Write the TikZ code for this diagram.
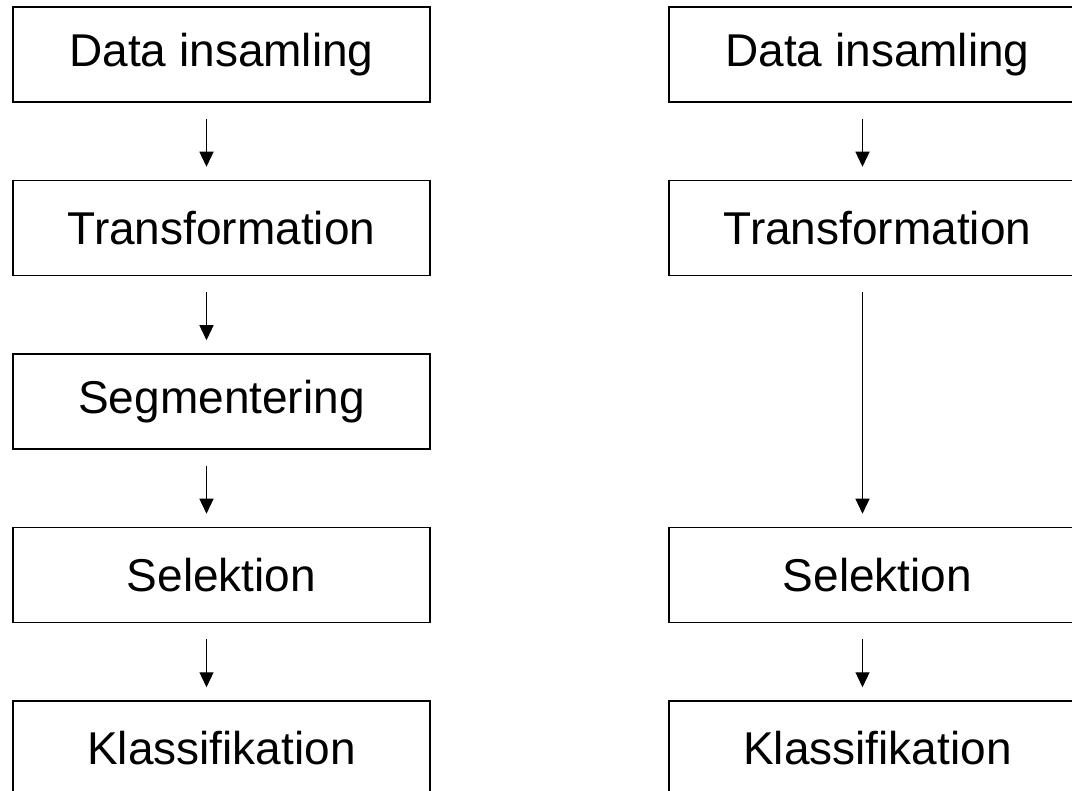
\documentclass[tikz,border=0pt]{standalone}
\usepackage{fontspec}
\setmainfont{Liberation Sans}
\usetikzlibrary{positioning,arrows.meta}
\begin{document}
\begin{tikzpicture}[
  node distance=77pt,
  steg/.style={draw,line width=1.5pt,minimum width=417pt,minimum height=95pt,
    inner sep=0pt,font=\fontsize{46pt}{55pt}\selectfont},
  pil/.style={line width=1.3pt,-{Triangle[width=14pt,length=15pt]}}]
\clip (0,0) rectangle (1072pt,-791pt);
\pgfmathsetmacro{\dx}{-15}%
% vänster kedja
\node[steg] (d1) at (221.5pt,-54.5pt) {Data insamling};
\node[steg,below=of d1] (t1) {Transformation};
\node[steg,below=of t1] (g1) {Segmentering};
\node[steg,below=of g1] (s1) {Selektion};
\node[steg,below=of s1] (k1) {Klassifikation};
% höger kedja, utan segmentering
\node[steg] (d2) at (877.5pt,-54.5pt) {Data insamling};
\node[steg,below=of d2] (t2) {Transformation};
\node[steg] (s2) at (d2 |- s1) {Selektion};
\node[steg,below=of s2] (k2) {Klassifikation};
\foreach \a/\b in {d1/t1,t1/g1,g1/s1,s1/k1,d2/t2,t2/s2,s2/k2}
  \draw[pil] ([xshift=\dx pt,yshift=-16pt]\a.south) -- ([xshift=\dx pt,yshift=13pt]\b.north);
\end{tikzpicture}
\end{document}
